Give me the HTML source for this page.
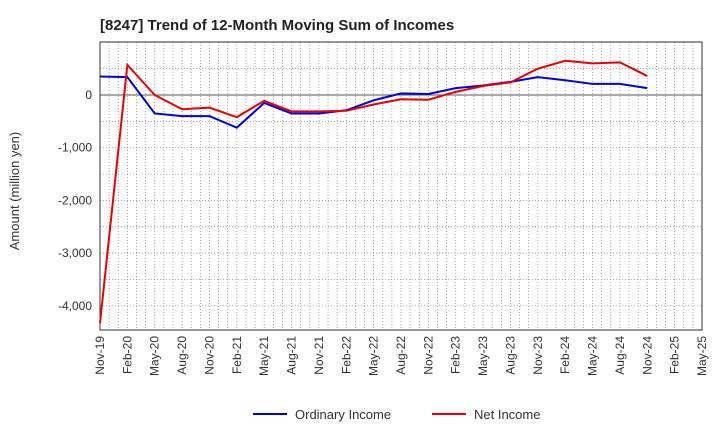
<!DOCTYPE html>
<html><head><meta charset="utf-8"><style>
body{margin:0;background:#fff;font-family:"Liberation Sans",sans-serif}
</style></head><body>
<svg id="c" width="720" height="440" xmlns="http://www.w3.org/2000/svg">
<text x="100" y="30" font-size="15" font-weight="bold" fill="#222">[8247]  Trend of 12-Month Moving Sum of Incomes</text>
<g id="grid"></g><g id="axes"></g><g id="series"></g>
<text transform="translate(19,191) rotate(-90)" text-anchor="middle" font-size="13" fill="#333">Amount (million yen)</text>
<g>
<line x1="253" y1="414" x2="287" y2="414" stroke="#0000ee" stroke-width="2"/>
<text x="295" y="419" font-size="13" fill="#333">Ordinary Income</text>
<line x1="432" y1="414" x2="466" y2="414" stroke="#ee0000" stroke-width="2"/>
<text x="474" y="419" font-size="13" fill="#333">Net Income</text>
</g>
</svg>
<script>
const xLabels=["Nov-19","Feb-20","May-20","Aug-20","Nov-20","Feb-21","May-21","Aug-21","Nov-21","Feb-22","May-22","Aug-22","Nov-22","Feb-23","May-23","Aug-23","Nov-23","Feb-24","May-24","Aug-24","Nov-24","Feb-25","May-25"];
const yTicks=[0,-1000,-2000,-3000,-4000];
const yTickLabels=["0","-1,000","-2,000","-3,000","-4,000"];
const ordinaryIncome=[350,340,-350,-400,-400,-620,-150,-350,-350,-290,-100,30,20,130,180,250,340,280,210,210,130];
const netIncome=[-4330,570,0,-270,-240,-420,-110,-310,-310,-300,-180,-80,-90,60,170,240,500,650,600,620,360];
const L=100,R=702,T=42,B=330;
const X=i=>L+i*(R-L)/(xLabels.length-1);
const Y=v=>95-v*0.0527;
const NS="http://www.w3.org/2000/svg";
function mk(p,t,a){const e=document.createElementNS(NS,t);for(const k in a)e.setAttribute(k,a[k]);p.appendChild(e);return e;}
const g=document.getElementById('grid'),ax=document.getElementById('axes'),s=document.getElementById('series');
mk(g,'rect',{x:L,y:T,width:R-L,height:B-T,fill:'#fff',stroke:'none'});
for(let m=0;m<=(xLabels.length-1)*3;m++){const x=L+m*(R-L)/((xLabels.length-1)*3);
const ln=mk(g,'line',{x1:x,y1:T,x2:x,y2:B,stroke:'#888','stroke-width':0.7,'stroke-dasharray':'1,2'});
}
for(let v=1000;v>=-4000;v-=500){const y=Y(v);if(y<T||y>B)continue;
const ln=mk(g,'line',{x1:L,y1:y,x2:R,y2:y,stroke:v===0?'#555':'#888','stroke-width':v===0?1:0.7,'stroke-dasharray':v===0?'':'1,2'});
}
mk(ax,'rect',{x:L,y:T,width:R-L,height:B-T,fill:'none',stroke:'#333','stroke-width':1});
yTicks.forEach((v,i)=>{const t=mk(ax,'text',{x:L-8,y:Y(v)+4,'text-anchor':'end','font-size':12,fill:'#333'});t.textContent=yTickLabels[i];
});
xLabels.forEach((l,i)=>{const x=X(i);const t=mk(ax,'text',{transform:`translate(${x+4},${B+6}) rotate(-90)`,'text-anchor':'end','font-size':12,fill:'#333'});t.textContent=l;
});
function line(d,c,n){const p=mk(s,'polyline',{points:d.map((v,i)=>X(i)+','+Y(v)).join(' '),fill:'none',stroke:c,'stroke-width':2});
}
line(ordinaryIncome,'#0000ee','ordinary-income-line');
line(netIncome,'#ee0000','net-income-line');
</script>
</body></html>
